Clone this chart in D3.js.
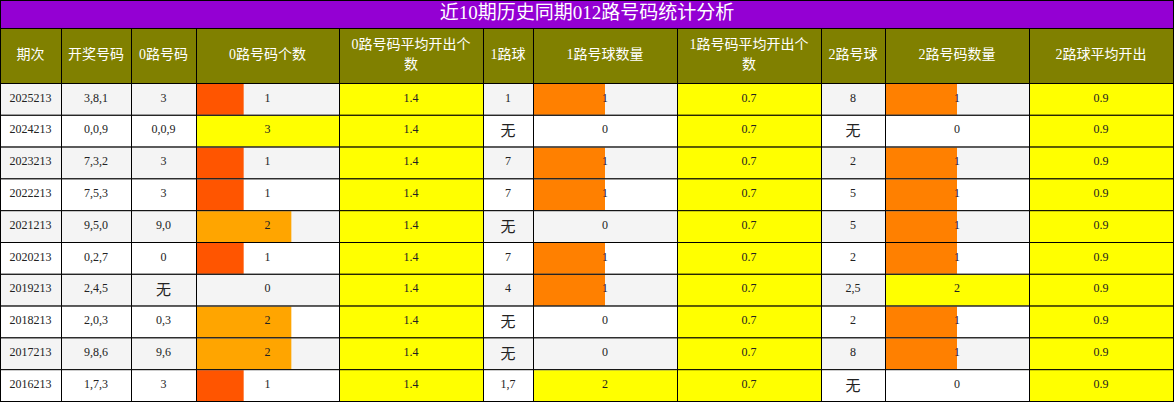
<!DOCTYPE html>
<html><head><meta charset="utf-8">
<script src="https://cdn.jsdelivr.net/npm/d3@7"></script>
<style>body{margin:0;background:#fff}text{font-family:"Liberation Serif","Noto Sans CJK SC",serif}</style>
</head><body><svg id="chart"></svg>
<script>
var width = 1174, height = 402;

var title = "近10期历史同期012路号码统计分析";
var headers = ["期次","开奖号码","0路号码","0路号码个数","0路号码平均开出个数","1路球","1路号球数量","1路号码平均开出个数","2路号球","2路号码数量","2路球平均开出"];
var periods = ["2025213","2024213","2023213","2022213","2021213","2020213","2019213","2018213","2017213","2016213"];
var draws = ["3,8,1","0,0,9","7,3,2","7,5,3","9,5,0","0,2,7","2,4,5","2,0,3","9,8,6","1,7,3"];
var road0 = ["3","0,0,9","3","3","9,0","0","无","0,3","9,6","3"];
var count0 = [1,3,1,1,2,1,0,2,2,1];
var avg0 = 1.4;
var road1 = ["1","无","7","7","无","7","4","无","无","1,7"];
var count1 = [1,0,1,1,0,1,1,0,0,2];
var avg1 = 0.7;
var road2 = ["8","无","2","5","5","2","2,5","2","8","无"];
var count2 = [1,0,1,1,1,1,2,1,1,0];
var avg2 = 0.9;

var edges = [0,61,131,196,339,483,533,677,821,885,1029,1173];
var titleH = 28, headH = 55;

var svg = d3.select("#chart").attr("width", width).attr("height", height);

svg.append("rect").attr("x",0.5).attr("y",0.5).attr("width",1173).attr("height",titleH)
  .attr("fill","#9400D3").attr("stroke","#000");
svg.append("text").attr("x",width/2).attr("y",titleH/2+1).attr("text-anchor","middle")
  .attr("dominant-baseline","middle").attr("fill","#fff").attr("font-size",19).text(title);

var y = d3.scaleBand().domain(d3.range(periods.length)).range([titleH+headH, height-1]);

// header
headers.forEach(function (h, i) {
  var x0 = edges[i], w = edges[i+1]-edges[i];
  svg.append("rect").attr("x",x0+0.5).attr("y",titleH+0.5).attr("width",w).attr("height",headH)
    .attr("fill","#808000").attr("stroke","#000");
  var lines = (h.length > 8) ? [h.slice(0,8), h.slice(8)] : [h];
  if (h === "1路号码平均开出个数") lines = ["1路号码平均开出个","数"];
  if (h === "0路号码平均开出个数") lines = ["0路号码平均开出个","数"];
  lines.forEach(function (l, k) {
    svg.append("text").attr("x",x0+w/2).attr("y",titleH+headH/2+(k-(lines.length-1)/2)*20)
      .attr("text-anchor","middle").attr("dominant-baseline","middle")
      .attr("fill","#fff").attr("font-size",14).text(l);
  });
});

var x0s = d3.scaleLinear().domain([0,3]).range([0, edges[4]-edges[3]]);
var x1s = d3.scaleLinear().domain([0,2]).range([0, edges[7]-edges[6]]);
var x2s = d3.scaleLinear().domain([0,2]).range([0, edges[10]-edges[9]]);

function barColor(v, max, one) {
  if (v >= max) return "#FFFF00";
  return v === 1 ? one : "#FFA500";
}

periods.forEach(function (p, r) {
  var yy = y(r), h = y.bandwidth();
  var bg = r % 2 === 0 ? "#f4f4f4" : "#fff";
  var cells = [
    {t:p},{t:draws[r]},{t:road0[r]},
    {t:String(count0[r]), v:count0[r], s:x0s, max:3, one:"#FF5500"},
    {t:avg0.toFixed(1), fill:"#FFFF00"},
    {t:road1[r]},
    {t:String(count1[r]), v:count1[r], s:x1s, max:2, one:"#FF8000"},
    {t:avg1.toFixed(1), fill:"#FFFF00"},
    {t:road2[r]},
    {t:String(count2[r]), v:count2[r], s:x2s, max:2, one:"#FF8000"},
    {t:avg2.toFixed(1), fill:"#FFFF00"}
  ];
  cells.forEach(function (c, i) {
    var x0 = edges[i], w = edges[i+1]-edges[i];
    svg.append("rect").attr("x",x0+0.5).attr("y",yy+0.5).attr("width",w).attr("height",h)
      .attr("fill", c.fill || bg);
    if (c.s && c.v > 0) {
      svg.append("rect").attr("x",x0+1).attr("y",yy+1).attr("width",c.s(c.v)-1).attr("height",h-1)
        .attr("fill", barColor(c.v, c.max, c.one));
    }
    svg.append("rect").attr("x",x0+0.5).attr("y",yy+0.5).attr("width",w).attr("height",h)
      .attr("fill","none").attr("stroke","#000");
    var isWu = c.t === "无";
    svg.append("text").attr("x",x0+w/2).attr("y",yy+h/2+(isWu?2:0))
      .attr("text-anchor","middle").attr("dominant-baseline","middle")
      .attr("fill","#222").attr("font-size",isWu?15:12).text(c.t);
  });
});
</script></body></html>
